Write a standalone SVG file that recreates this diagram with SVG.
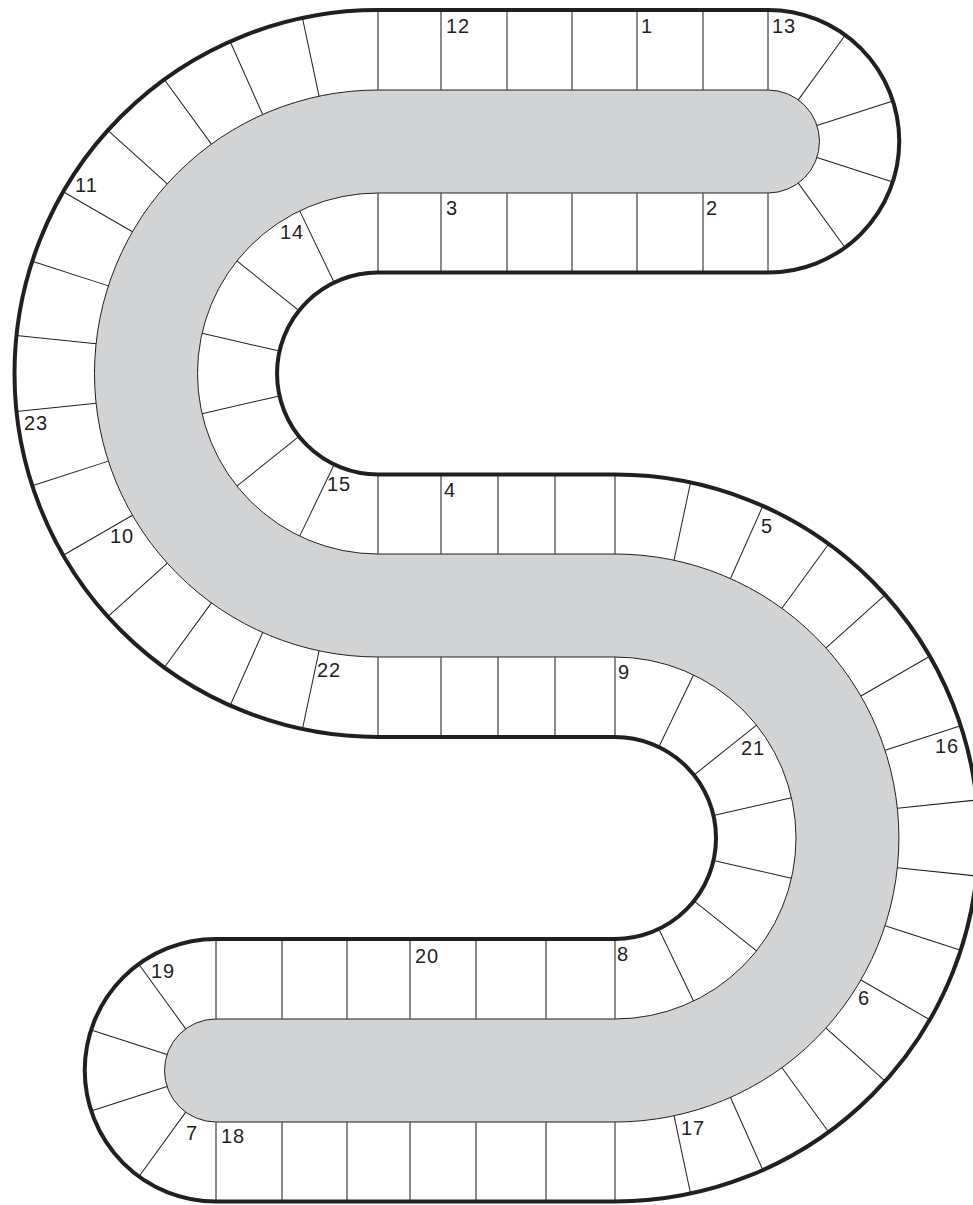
<svg xmlns="http://www.w3.org/2000/svg" width="973" height="1205" viewBox="0 0 973 1205">
<style>
.d{stroke:#4d4d4f;stroke-width:1.3;fill:none}
.r{stroke:#231f20;stroke-width:1;fill:none}
.lbl{font-family:"Liberation Sans",Arial,sans-serif;font-size:20px;letter-spacing:1px;fill:#231f20}
</style>
<rect width="973" height="1205" fill="#ffffff"/>
<g id="track-surface">
<path d="M 768 90 A 51.5 51.5 0 0 1 768 193 L 378 193 A 180.5 180.5 0 0 0 378 554 L 615 554 A 284 284 0 0 1 615 1122 L 216 1122 A 51.5 51.5 0 0 1 216 1019 L 615 1019 A 181 181 0 0 0 615 657 L 378 657 A 283.5 283.5 0 0 1 378 90 Z" fill="#d1d3d4" stroke="#231f20" stroke-width="1"/>
</g>
<g id="top-straight">
<path class="d" d="M378 10V90M441 10V90M507 10V90M572 10V90M637 10V90M703 10V90M768 10V90M378 193V272.5M441 193V272.5M507 193V272.5M572 193V272.5M637 193V272.5M703 193V272.5M768 193V272.5"/>
</g>
<g id="middle-straight">
<path class="d" d="M378 474.5V554M441 474.5V554M498 474.5V554M555 474.5V554M615 474.5V554M378 657V737M441 657V737M498 657V737M555 657V737M615 657V737"/>
</g>
<g id="bottom-straight">
<path class="d" d="M216 939V1019M282 939V1019M347 939V1019M410 939V1019M476 939V1019M546 939V1019M615 939V1019M216 1122V1201.5M282 1122V1201.5M347 1122V1201.5M410 1122V1201.5M476 1122V1201.5M546 1122V1201.5M615 1122V1201.5"/>
</g>
<g id="top-cap" transform="translate(768 141.5)">
<line class="r" x1="0" y1="-51.5" x2="0" y2="-131.25" transform="rotate(36)"/>
<line class="r" x1="0" y1="-51.5" x2="0" y2="-131.25" transform="rotate(72)"/>
<line class="r" x1="0" y1="-51.5" x2="0" y2="-131.25" transform="rotate(108)"/>
<line class="r" x1="0" y1="-51.5" x2="0" y2="-131.25" transform="rotate(144)"/>
</g>
<g id="bottom-cap" transform="translate(216 1070.5)">
<line class="r" x1="0" y1="-51.5" x2="0" y2="-131.25" transform="rotate(-36)"/>
<line class="r" x1="0" y1="-51.5" x2="0" y2="-131.25" transform="rotate(-72)"/>
<line class="r" x1="0" y1="-51.5" x2="0" y2="-131.25" transform="rotate(-108)"/>
<line class="r" x1="0" y1="-51.5" x2="0" y2="-131.25" transform="rotate(-144)"/>
</g>
<g id="left-arc" transform="translate(378 373.5)">
<line class="r" x1="0" y1="-283.5" x2="0" y2="-363.5" transform="rotate(-12)"/>
<line class="r" x1="0" y1="-283.5" x2="0" y2="-363.5" transform="rotate(-24)"/>
<line class="r" x1="0" y1="-283.5" x2="0" y2="-363.5" transform="rotate(-36)"/>
<line class="r" x1="0" y1="-283.5" x2="0" y2="-363.5" transform="rotate(-48)"/>
<line class="r" x1="0" y1="-283.5" x2="0" y2="-363.5" transform="rotate(-60)"/>
<line class="r" x1="0" y1="-283.5" x2="0" y2="-363.5" transform="rotate(-72)"/>
<line class="r" x1="0" y1="-283.5" x2="0" y2="-363.5" transform="rotate(-84)"/>
<line class="r" x1="0" y1="-283.5" x2="0" y2="-363.5" transform="rotate(-96)"/>
<line class="r" x1="0" y1="-283.5" x2="0" y2="-363.5" transform="rotate(-108)"/>
<line class="r" x1="0" y1="-283.5" x2="0" y2="-363.5" transform="rotate(-120)"/>
<line class="r" x1="0" y1="-283.5" x2="0" y2="-363.5" transform="rotate(-132)"/>
<line class="r" x1="0" y1="-283.5" x2="0" y2="-363.5" transform="rotate(-144)"/>
<line class="r" x1="0" y1="-283.5" x2="0" y2="-363.5" transform="rotate(-156)"/>
<line class="r" x1="0" y1="-283.5" x2="0" y2="-363.5" transform="rotate(-168)"/>
<line class="r" x1="0" y1="-101" x2="0" y2="-180.5" transform="rotate(-25.714)"/>
<line class="r" x1="0" y1="-101" x2="0" y2="-180.5" transform="rotate(-51.429)"/>
<line class="r" x1="0" y1="-101" x2="0" y2="-180.5" transform="rotate(-77.143)"/>
<line class="r" x1="0" y1="-101" x2="0" y2="-180.5" transform="rotate(-102.857)"/>
<line class="r" x1="0" y1="-101" x2="0" y2="-180.5" transform="rotate(-128.571)"/>
<line class="r" x1="0" y1="-101" x2="0" y2="-180.5" transform="rotate(-154.286)"/>
</g>
<g id="right-arc" transform="translate(615 838)">
<line class="r" x1="0" y1="-284" x2="0" y2="-363.5" transform="rotate(12)"/>
<line class="r" x1="0" y1="-284" x2="0" y2="-363.5" transform="rotate(24)"/>
<line class="r" x1="0" y1="-284" x2="0" y2="-363.5" transform="rotate(36)"/>
<line class="r" x1="0" y1="-284" x2="0" y2="-363.5" transform="rotate(48)"/>
<line class="r" x1="0" y1="-284" x2="0" y2="-363.5" transform="rotate(60)"/>
<line class="r" x1="0" y1="-284" x2="0" y2="-363.5" transform="rotate(72)"/>
<line class="r" x1="0" y1="-284" x2="0" y2="-363.5" transform="rotate(84)"/>
<line class="r" x1="0" y1="-284" x2="0" y2="-363.5" transform="rotate(96)"/>
<line class="r" x1="0" y1="-284" x2="0" y2="-363.5" transform="rotate(108)"/>
<line class="r" x1="0" y1="-284" x2="0" y2="-363.5" transform="rotate(120)"/>
<line class="r" x1="0" y1="-284" x2="0" y2="-363.5" transform="rotate(132)"/>
<line class="r" x1="0" y1="-284" x2="0" y2="-363.5" transform="rotate(144)"/>
<line class="r" x1="0" y1="-284" x2="0" y2="-363.5" transform="rotate(156)"/>
<line class="r" x1="0" y1="-284" x2="0" y2="-363.5" transform="rotate(168)"/>
<line class="r" x1="0" y1="-101" x2="0" y2="-181" transform="rotate(25.714)"/>
<line class="r" x1="0" y1="-101" x2="0" y2="-181" transform="rotate(51.429)"/>
<line class="r" x1="0" y1="-101" x2="0" y2="-181" transform="rotate(77.143)"/>
<line class="r" x1="0" y1="-101" x2="0" y2="-181" transform="rotate(102.857)"/>
<line class="r" x1="0" y1="-101" x2="0" y2="-181" transform="rotate(128.571)"/>
<line class="r" x1="0" y1="-101" x2="0" y2="-181" transform="rotate(154.286)"/>
</g>
<g id="track-border">
<path d="M 378 10 L 768 10 A 131.25 131.25 0 0 1 768 272.5 L 378 272.5 A 101 101 0 0 0 378 474.5 L 615 474.5 A 363.5 363.5 0 0 1 615 1201.5 L 216 1201.5 A 131.25 131.25 0 0 1 216 939 L 615 939 A 101 101 0 0 0 615 737 L 378 737 A 363.5 363.5 0 0 1 378 10 Z" fill="none" stroke="#231f20" stroke-width="4"/>
</g>
<g id="labels" class="lbl">
<text x="446" y="33">12</text>
<text x="641" y="33">1</text>
<text x="772" y="33">13</text>
<text x="446" y="215">3</text>
<text x="706" y="215">2</text>
<text x="280" y="239">14</text>
<text x="75" y="192">11</text>
<text x="24" y="430">23</text>
<text x="110" y="543">10</text>
<text x="327" y="491">15</text>
<text x="444" y="497">4</text>
<text x="317" y="677">22</text>
<text x="761" y="533">5</text>
<text x="618" y="679">9</text>
<text x="741" y="755">21</text>
<text x="935" y="753">16</text>
<text x="617" y="961">8</text>
<text x="858" y="1005">6</text>
<text x="681" y="1135">17</text>
<text x="415" y="963">20</text>
<text x="151" y="978">19</text>
<text x="186" y="1140">7</text>
<text x="221" y="1143">18</text>
</g>
</svg>
